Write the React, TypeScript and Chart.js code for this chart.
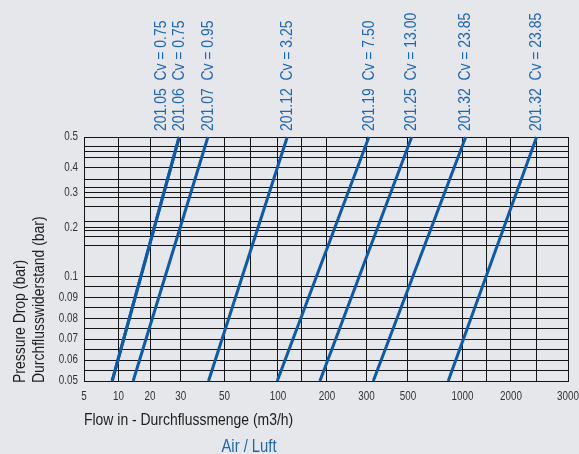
import React, { useEffect, useRef } from 'react';
import { Chart, LinearScale, registerables } from 'chart.js';

// ---- data ----
const MODELS = ['201.05', '201.06', '201.07', '201.12', '201.19', '201.25', '201.32', '201.32'];
const CV_VALUES = [0.75, 0.75, 0.95, 3.25, 7.5, 13.0, 23.85, 23.85];
const PRESSURE_ENDS = [0.05, 0.5]; // bar
const FLOW_AT_LOW_PRESSURE = [8.8, 8.8, 13.8, 41.5, 99, 181, 326, 834]; // m3/h at 0.05 bar
const FLOW_AT_HIGH_PRESSURE = [29.4, 29.4, 41.2, 114, 309, 524, 1047, 2400]; // m3/h at 0.5 bar

const X_TICK_VALUES = [5, 10, 20, 30, 50, 100, 200, 300, 500, 1000, 2000, 3000];
const X_EXTRA_GRID = [70, 140, 1400, 2400];
const Y_TICK_VALUES = [0.05, 0.06, 0.07, 0.08, 0.09, 0.1, 0.2, 0.3, 0.4, 0.5];
const Y_EXTRA_GRID = [0.055, 0.065, 0.075, 0.085, 0.095, 0.155, 0.175, 0.19, 0.215, 0.255, 0.285, 0.32, 0.35, 0.43, 0.45, 0.465];

// calibration of the printed (non-uniform) axes: share of the axis length at each labelled value
const X_AXIS_SHARE = [0, 0.0713, 0.1364, 0.1998, 0.2903, 0.4008, 0.502, 0.5837, 0.6694, 0.782, 0.8822, 1];
const Y_AXIS_SHARE = [0, 0.0858, 0.1716, 0.2574, 0.3432, 0.429, 0.6299, 0.7717, 0.875, 1];

const CALIBRATION: Record<string, { values: number[]; share: number[]; grid: number[] }> = {
  x: { values: X_TICK_VALUES, share: X_AXIS_SHARE, grid: X_EXTRA_GRID },
  y: { values: Y_TICK_VALUES, share: Y_AXIS_SHARE, grid: Y_EXTRA_GRID },
};

const FONT = "'Liberation Sans', Arial, sans-serif";
const SQUEEZE = 0.82; // narrow typeface look
const BG = '#e5e7ea';
const LINE_BLUE = '#0c5aa8';
const TEXT_BLUE = '#1f66b3';
const GRID = '#151515';
const TICK_COLOR = '#333333';
const TITLE_COLOR = '#1e1e1e';

class CalibratedLogScale extends LinearScale {
  static id = 'calibratedLog';
  static defaults = {};

  cal() {
    return CALIBRATION[(this as any).id];
  }
  determineDataLimits() {
    const c = this.cal();
    (this as any).min = c.values[0];
    (this as any).max = c.values[c.values.length - 1];
  }
  buildTicks() {
    const c = this.cal();
    return [...c.values, ...c.grid].sort((a, b) => a - b).map((value) => ({ value }));
  }
  shareForValue(value: number) {
    const { values, share } = this.cal();
    const lv = Math.log10(value);
    for (let i = 1; i < values.length; i++) {
      if (value <= values[i] || i === values.length - 1) {
        const a = Math.log10(values[i - 1]);
        const b = Math.log10(values[i]);
        return share[i - 1] + ((lv - a) / (b - a)) * (share[i] - share[i - 1]);
      }
    }
    return 0;
  }
  getPixelForValue(value: number) {
    return (this as any).getPixelForDecimal(this.shareForValue(value));
  }
  getValueForPixel(pixel: number) {
    const d = (this as any).getDecimalForPixel(pixel);
    const { values, share } = this.cal();
    for (let i = 1; i < values.length; i++) {
      if (d <= share[i] || i === values.length - 1) {
        const a = Math.log10(values[i - 1]);
        const b = Math.log10(values[i]);
        const t = (d - share[i - 1]) / (share[i] - share[i - 1]);
        return Math.pow(10, a + t * (b - a));
      }
    }
    return values[0];
  }
}

Chart.register(...registerables, CalibratedLogScale as any);

function drawText(
  ctx: CanvasRenderingContext2D,
  text: string,
  x: number,
  y: number,
  opts: { size: number; color: string; align: CanvasTextAlign; rotate?: boolean }
) {
  ctx.save();
  ctx.font = `${opts.size}px ${FONT}`;
  ctx.fillStyle = opts.color;
  ctx.textAlign = opts.align;
  ctx.textBaseline = 'middle';
  ctx.translate(x, y);
  if (opts.rotate) ctx.rotate(-Math.PI / 2);
  ctx.scale(SQUEEZE, 1);
  ctx.fillText(text, 0, 0);
  ctx.restore();
}

const textPlugin = {
  id: 'diagramTexts',
  afterDraw(chart: any) {
    const { ctx, chartArea, scales } = chart;
    // tick labels
    X_TICK_VALUES.forEach((v) => {
      drawText(ctx, String(v), scales.x.getPixelForValue(v), chartArea.bottom + 16, {
        size: 12, color: TICK_COLOR, align: 'center',
      });
    });
    Y_TICK_VALUES.forEach((v) => {
      drawText(ctx, String(v), chartArea.left - 6, scales.y.getPixelForValue(v), {
        size: 12, color: TICK_COLOR, align: 'right',
      });
    });
    // model labels above the lines
    let prevX = Infinity;
    for (let i = MODELS.length - 1; i >= 0; i--) {
      let x = scales.x.getPixelForValue(FLOW_AT_HIGH_PRESSURE[i]);
      if (x > prevX - 18) x = prevX - 18;
      prevX = x;
      drawText(ctx, `${MODELS[i]}  Cv = ${CV_VALUES[i].toFixed(2)}`, x, chartArea.top - 6, {
        size: 17, color: TEXT_BLUE, align: 'left', rotate: true,
      });
    }
    // y axis title (two lines)
    ['Pressure Drop (bar)', 'Durchflusswiderstand (bar)'].forEach((t, k) => {
      drawText(ctx, t, 20 + k * 19, chartArea.bottom + 2, {
        size: 17, color: TITLE_COLOR, align: 'left', rotate: true,
      });
    });
    // x axis title
    drawText(ctx, 'Flow in - Durchflussmenge (m3/h)', chartArea.left, chartArea.bottom + 39, {
      size: 17, color: TITLE_COLOR, align: 'left',
    });
    // medium
    drawText(ctx, 'Air / Luft', chartArea.left + 165, chartArea.bottom + 66, {
      size: 18, color: TEXT_BLUE, align: 'center',
    });
  },
};

export default function App() {
  const ref = useRef<HTMLCanvasElement>(null);
  useEffect(() => {
    if (!ref.current) return;
    const datasets = MODELS.map((m, i) => ({
      label: `${m} Cv = ${CV_VALUES[i]}`,
      data: [
        { x: FLOW_AT_LOW_PRESSURE[i], y: PRESSURE_ENDS[0] },
        { x: FLOW_AT_HIGH_PRESSURE[i], y: PRESSURE_ENDS[1] },
      ],
      borderColor: LINE_BLUE,
      borderWidth: 3,
      pointRadius: 0,
      fill: false,
      tension: 0,
    }));
    const chart = new Chart(ref.current, {
      type: 'line',
      data: { datasets },
      options: {
        animation: false,
        responsive: false,
        parsing: false as any,
        layout: { padding: { left: 0, right: 11, top: 137, bottom: 0 } },
        plugins: { legend: { display: false }, tooltip: { enabled: false } },
        scales: {
          x: {
            type: 'calibratedLog' as any,
            afterFit: (s: any) => {
              s.height = 73;
              s.paddingLeft = 0;
              s.paddingRight = 0;
            },
            grid: { color: GRID, lineWidth: 1, drawTicks: false },
            border: { display: true, color: GRID, width: 1 },
            ticks: { display: false, autoSkip: false },
          } as any,
          y: {
            type: 'calibratedLog' as any,
            afterFit: (s: any) => {
              s.width = 84;
              s.paddingTop = 0;
              s.paddingBottom = 0;
            },
            grid: { color: GRID, lineWidth: 1, drawTicks: false },
            border: { display: true, color: GRID, width: 1 },
            ticks: { display: false, autoSkip: false },
          } as any,
        },
      },
      plugins: [textPlugin],
    });
    return () => chart.destroy();
  }, []);
  return (
    <div style={{ position: 'fixed', left: 0, top: 0, width: 579, height: 454, background: BG }}>
      <canvas ref={ref} width={579} height={454} style={{ display: 'block' }} />
    </div>
  );
}
